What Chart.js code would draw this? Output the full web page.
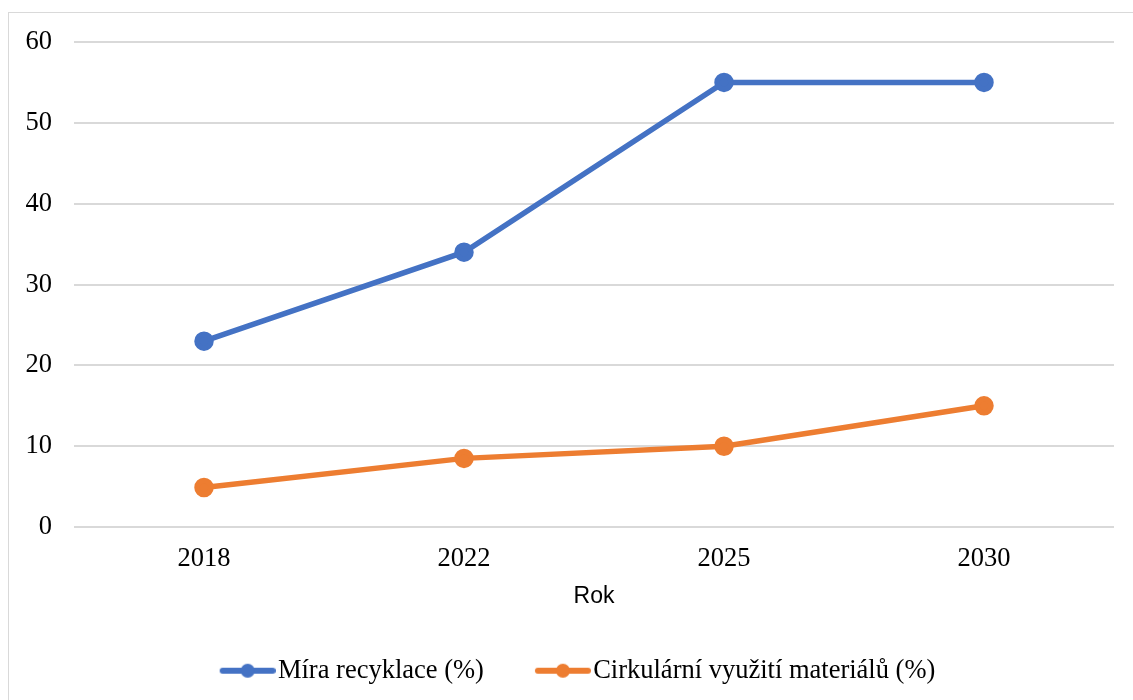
<!DOCTYPE html>
<html>
<head>
<meta charset="utf-8">
<script src="https://cdn.jsdelivr.net/npm/chart.js@4"></script>
<style>
  body { margin: 0; background: #fff; }
  #frame {
    position: absolute; left: 8px; top: 12px;
    width: 1140px; height: 700px;
    border: 1px solid #d9d9d9;
  }
  #wrap { position: absolute; left: 0; top: 0; width: 1133px; height: 700px; }
</style>
</head>
<body>
<div id="frame"></div>
<div id="wrap"><canvas id="myLineChart"></canvas></div>
<script>
const years = ["2018", "2022", "2025", "2030"];
const recyclingRate = [23, 34, 55, 55];
const circularUse = [4.9, 8.5, 10, 15];
const yTicks = [0, 10, 20, 30, 40, 50, 60];

const blue = "#4472C4";
const orange = "#ED7D31";
const serif = "'Liberation Serif', 'Times New Roman', serif";

// legend marker: line with a dot, sitting at the right end of a wider (transparent) image
// so the gap between the two legend entries comes out like the original
function legendMarker(color) {
  const c = document.createElement("canvas");
  c.width = 108;
  c.height = 18;
  const g = c.getContext("2d");
  g.strokeStyle = color;
  g.lineWidth = 6;
  g.lineCap = "round";
  g.beginPath();
  g.moveTo(55, 9);
  g.lineTo(105, 9);
  g.stroke();
  g.fillStyle = color;
  g.beginPath();
  g.arc(80, 9, 7, 0, Math.PI * 2);
  g.fill();
  return c;
}

const markers = [legendMarker(blue), legendMarker(orange)];

const ctlx = document.getElementById("myLineChart").getContext("2d");

const myLineChart = new Chart(ctlx, {
  type: "line",
  data: {
    labels: years,
    datasets: [
      {
        label: "Míra recyklace (%)",
        data: recyclingRate,
        borderColor: blue,
        backgroundColor: blue,
        borderWidth: 5.5,
        pointRadius: 7,
        pointHoverRadius: 7,
        tension: 0,
      },
      {
        label: "Cirkulární využití materiálů (%)",
        data: circularUse,
        borderColor: orange,
        backgroundColor: orange,
        borderWidth: 5.5,
        pointRadius: 7,
        pointHoverRadius: 7,
        tension: 0,
      },
    ],
  },
  options: {
    responsive: true,
    maintainAspectRatio: false,
    animation: false,
    layout: {
      padding: { top: 42, right: 19, bottom: 6, left: 0 },
    },
    plugins: {
      title: { display: false },
      tooltip: { enabled: false },
      legend: {
        position: "bottom",
        labels: {
          usePointStyle: true,
          pointStyleWidth: 86,
          padding: 10,
          color: "#000",
          font: { family: serif, size: 26.5 },
          generateLabels: function (chart) {
            const items = Chart.defaults.plugins.legend.labels.generateLabels(chart);
            items.forEach(function (it, i) {
              it.pointStyle = markers[i];
            });
            return items;
          },
        },
      },
    },
    scales: {
      x: {
        offset: true,
        grid: { display: false, drawTicks: false },
        border: { display: false },
        ticks: {
          padding: 16,
          color: "#000",
          font: { family: serif, size: 26.5 },
        },
        title: {
          display: true,
          text: "Rok",
          color: "#000",
          font: { family: "'Liberation Sans', Arial, sans-serif", size: 23 },
          padding: { top: -8, bottom: 37 },
        },
      },
      y: {
        min: 0,
        max: 60,
        afterFit: function (axis) {
          axis.width = 74;
        },
        afterBuildTicks: function (axis) {
          axis.ticks = yTicks.map(function (v) {
            return { value: v };
          });
        },
        grid: { color: "#d9d9d9", lineWidth: 2, drawTicks: false },
        border: { display: false },
        ticks: {
          padding: 22,
          color: "#000",
          font: { family: serif, size: 26.5 },
        },
      },
    },
  },
});
</script>
</body>
</html>
